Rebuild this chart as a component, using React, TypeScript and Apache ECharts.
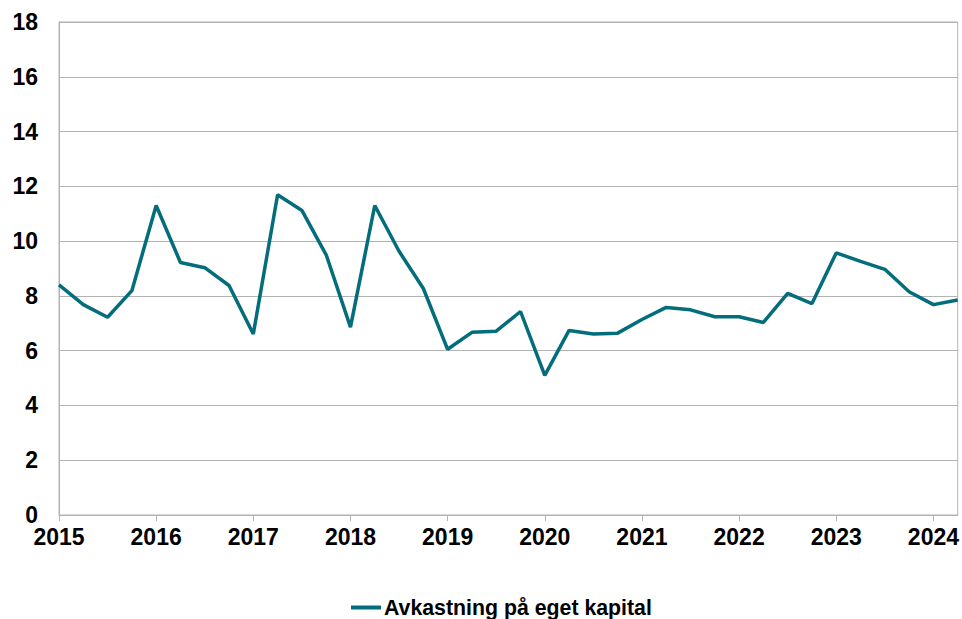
import React, { useEffect, useRef } from "react";
import * as echarts from "echarts";

const quarters: string[] = [];
for (let y = 2015; y <= 2024; y++) {
  for (let q = 1; q <= 4; q++) {
    if (y === 2024 && q > 2) break;
    quarters.push(`${y}K${q}`);
  }
}

const seriesName = "Avkastning på eget kapital";
const roeValues = [
  8.40, 7.68, 7.22, 8.19,
  11.30, 9.22, 9.03, 8.38,
  6.61, 11.69, 11.12, 9.50,
  6.86, 11.30, 9.63, 8.27,
  6.05, 6.67, 6.71, 7.43,
  5.10, 6.74, 6.61, 6.64,
  7.14, 7.58, 7.49, 7.24,
  7.24, 7.03, 8.09, 7.72,
  9.57, 9.26, 8.97, 8.15,
  7.68, 7.85,
];

export default function App() {
  const ref = useRef<HTMLDivElement>(null);
  useEffect(() => {
    if (!ref.current) return;
    const chart = echarts.init(ref.current, undefined, { renderer: "svg" });
    const font = "'Liberation Sans', Arial, sans-serif";
    chart.setOption({
      animation: false,
      backgroundColor: "#ffffff",
      textStyle: { fontFamily: font },
      grid: {
        left: 59,
        right: 4,
        top: 22,
        bottom: 104,
        show: true,
        borderColor: "#b3b3b3",
        borderWidth: 1,
      },
      legend: {
        top: 592,
        left: 346,
        icon: "rect",
        itemWidth: 30,
        itemHeight: 4,
        itemGap: 4,
        textStyle: { fontFamily: font, fontWeight: "bold", fontSize: 21.3, color: "#000", padding: [0, 0, 0, -2] },
        data: [seriesName],
      },
      xAxis: {
        type: "category",
        data: quarters,
        boundaryGap: false,
        axisLine: { lineStyle: { color: "#b3b3b3", width: 1 } },
        axisTick: { show: true, interval: 3, length: 6, lineStyle: { color: "#b3b3b3" } },
        axisLabel: {
          interval: 3,
          margin: 10,
          fontFamily: font,
          fontWeight: "bold",
          fontSize: 23,
          color: "#000",
          formatter: (v: string) => v.slice(0, 4),
        },
        splitLine: { show: false },
      },
      yAxis: {
        type: "value",
        min: 0,
        max: 18,
        interval: 2,
        axisLine: { show: true, lineStyle: { color: "#b3b3b3" } },
        axisTick: { show: false },
        axisLabel: {
          margin: 21,
          fontFamily: font,
          fontWeight: "bold",
          fontSize: 23,
          color: "#000",
        },
        splitLine: { lineStyle: { color: "#b3b3b3", width: 1 } },
      },
      series: [
        {
          name: seriesName,
          type: "line",
          data: roeValues,
          showSymbol: false,
          symbol: "none",
          lineStyle: { color: "#036d7b", width: 3.5 },
          itemStyle: { color: "#036d7b" },
        },
      ],
    });
    return () => chart.dispose();
  }, []);
  return (
    <div
      ref={ref}
      style={{ position: "fixed", left: 0, top: 0, width: 962, height: 619 }}
    />
  );
}
